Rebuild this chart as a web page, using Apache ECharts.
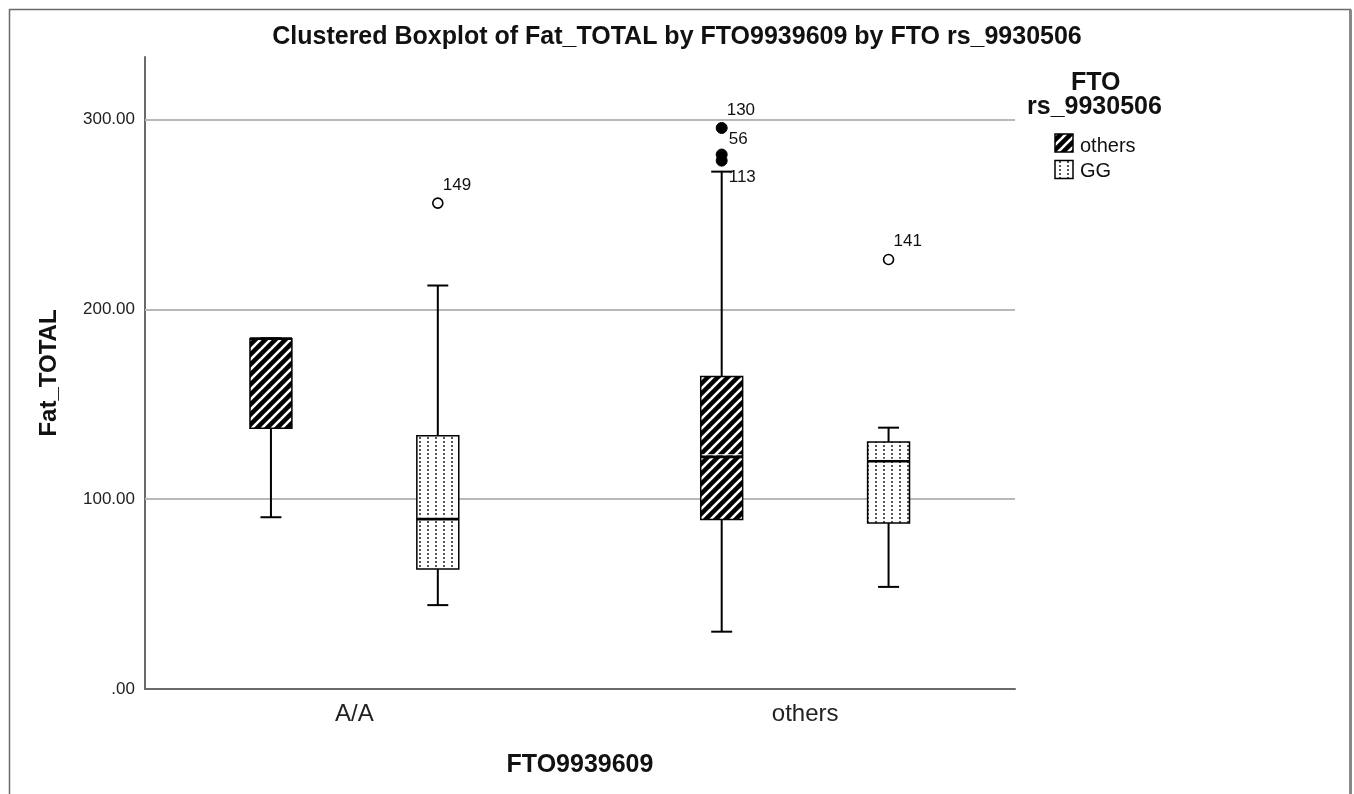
<!DOCTYPE html>
<html>
<head>
<meta charset="utf-8">
<script src="https://cdn.jsdelivr.net/npm/echarts@6/dist/echarts.min.js"></script>
<style>
html,body{margin:0;padding:0;background:#fff;}
#main{width:1354px;height:794px;}
</style>
</head>
<body>
<div id="main"></div>
<script>
// ---- data ----
const categories = ['A/A', 'others'];
const seriesNames = ['others', 'GG'];
const yTicks = [0, 100, 200, 300];
// [min, q1, median, q3, max] per category
const othersBox = [
  [90.5, 137.4, 184.6, 184.6, 185.2],
  [30.2, 89.3, 122.3, 164.7, 272.6]
];
const ggBox = [
  [44.2, 63.2, 89.5, 133.5, 212.6],
  [53.8, 87.5, 120.0, 130.2, 137.7]
];
// [categoryIndex, value, case id]
const othersOutliers = [
  [1, 295.6, '130'],
  [1, 281.6, '56'],
  [1, 278.4, '113']
];
const ggOutliers = [
  [0, 256.0, '149'],
  [1, 226.3, '141']
];

// ---- styles ----
const FONT = '"Liberation Sans", Arial, sans-serif';
const groupOffset = { others: -0.1851, GG: 0.1851 };
const boxWidthUnits = 0.093;
const labelOffsets = { '56': [7, -15], '113': [7, 17] };

function hatchPattern() {
  const c = document.createElement('canvas');
  c.width = 10; c.height = 10;
  const g = c.getContext('2d');
  g.fillStyle = '#000';
  g.fillRect(0, 0, 10, 10);
  g.strokeStyle = '#fff';
  g.lineWidth = 2.6;
  [0, 10, 20].forEach(function (k) {
    g.beginPath();
    g.moveTo(k + 5, -5);
    g.lineTo(k - 15, 15);
    g.stroke();
  });
  return c;
}
function dotPattern() {
  const c = document.createElement('canvas');
  c.width = 8; c.height = 4;
  const g = c.getContext('2d');
  g.fillStyle = '#fff';
  g.fillRect(0, 0, 8, 4);
  g.fillStyle = '#555';
  g.fillRect(3, 1, 2, 2);
  return c;
}
const patterns = { others: hatchPattern(), GG: dotPattern() };

function boxSeries(name, boxes) {
  const data = boxes.map(function (b, i) { return [i].concat(b); });
  return {
    type: 'custom',
    name: name,
    z: 3,
    data: data,
    encode: { x: 0, y: [1, 2, 3, 4, 5] },
    renderItem: function (params, api) {
      const cx = api.value(0) + groupOffset[name];
      const vals = [1, 2, 3, 4, 5].map(function (d) { return api.value(d); });
      const pMin = api.coord([cx, vals[0]]);
      const pQ1 = api.coord([cx, vals[1]]);
      const pMed = api.coord([cx, vals[2]]);
      const pQ3 = api.coord([cx, vals[3]]);
      const pMax = api.coord([cx, vals[4]]);
      const w = api.size([boxWidthUnits, 0])[0];
      const x = pQ1[0];
      const cap = w / 2;
      const lineStyle = { stroke: '#000', lineWidth: 2 };
      return {
        type: 'group',
        children: [
          { type: 'line', shape: { x1: x, y1: pQ3[1], x2: x, y2: pMax[1] }, style: lineStyle },
          { type: 'line', shape: { x1: x - cap / 2, y1: pMax[1], x2: x + cap / 2, y2: pMax[1] }, style: lineStyle },
          { type: 'line', shape: { x1: x, y1: pQ1[1], x2: x, y2: pMin[1] }, style: lineStyle },
          { type: 'line', shape: { x1: x - cap / 2, y1: pMin[1], x2: x + cap / 2, y2: pMin[1] }, style: lineStyle },
          { type: 'rect', shape: { x: x - w / 2, y: pQ3[1], width: w, height: pQ1[1] - pQ3[1] },
            style: { fill: { image: patterns[name], repeat: 'repeat' }, stroke: '#000', lineWidth: 1.5 } },
          { type: 'line', shape: { x1: x - w / 2 + 1, y1: pMed[1] - 2, x2: x + w / 2 - 1, y2: pMed[1] - 2 },
            style: { stroke: '#fff', lineWidth: 1.2 } },
          { type: 'line', shape: { x1: x - w / 2, y1: pMed[1], x2: x + w / 2, y2: pMed[1] },
            style: { stroke: '#000', lineWidth: 2.6 } }
        ]
      };
    }
  };
}

function outlierSeries(name, pts, filled) {
  return {
    type: 'custom',
    name: name + ' outliers',
    z: 4,
    data: pts.map(function (p) { return [p[0], p[1], p[2]]; }),
    encode: { x: 0, y: 1 },
    renderItem: function (params, api) {
      const cx = api.value(0) + groupOffset[name];
      const p = api.coord([cx, api.value(1)]);
      const id = pts[params.dataIndex][2];
      const off = labelOffsets[id] || [5, -18];
      return {
        type: 'group',
        children: [
          { type: 'circle', shape: { cx: p[0], cy: p[1], r: filled ? 5.5 : 5 },
            style: filled ? { fill: '#000', stroke: '#000', lineWidth: 1 } : { fill: '#fff', stroke: '#000', lineWidth: 1.6 } },
          { type: 'text', x: p[0] + off[0], y: p[1] + off[1],
            style: { text: id, fill: '#111', font: '17px ' + FONT, align: 'left', verticalAlign: 'middle' } }
        ]
      };
    }
  };
}

const chart = echarts.init(document.getElementById('main'), null, { renderer: 'canvas' });
const option = {
  backgroundColor: '#fff',
  animation: false,
  title: {
    text: 'Clustered Boxplot of Fat_TOTAL by FTO9939609 by FTO rs_9930506',
    left: 'center',
    top: 20,
    textStyle: { fontFamily: FONT, fontSize: 25, fontWeight: 'bold', color: '#111' }
  },
  grid: { left: 145, right: 339, top: 57, bottom: 105, containLabel: false },
  xAxis: {
    type: 'value',
    min: -0.4645,
    max: 1.4656,
    name: 'FTO9939609',
    nameLocation: 'middle',
    nameGap: 64,
    nameTextStyle: { fontFamily: FONT, fontSize: 25, fontWeight: 'bold', color: '#111' },
    axisLine: { show: true, onZero: false, lineStyle: { color: '#6a6a6a', width: 2 } },
    axisTick: { show: false },
    splitLine: { show: false },
    axisLabel: {
      customValues: [0, 1],
      formatter: function (v) { return categories[Math.round(v)]; },
      fontFamily: FONT, fontSize: 24, color: '#222', margin: 13
    }
  },
  yAxis: {
    type: 'value',
    min: 0,
    max: 333,
    name: 'Fat_TOTAL',
    nameLocation: 'middle',
    nameRotate: 90,
    nameGap: 84,
    nameTextStyle: { fontFamily: FONT, fontSize: 24, fontWeight: 'bold', color: '#111' },
    axisLine: { show: true, onZero: false, lineStyle: { color: '#6a6a6a', width: 2 } },
    axisTick: { show: false },
    splitLine: { show: false },
    axisLabel: {
      customValues: yTicks,
      formatter: function (v) { return v === 0 ? '.00' : v.toFixed(2); },
      fontFamily: FONT, fontSize: 17, color: '#222', margin: 10
    }
  },
  graphic: [
    { type: 'rect', shape: { x: 9.5, y: 9.5, width: 1341, height: 900 }, style: { fill: 'none', stroke: '#6a6a6a', lineWidth: 1.5 }, silent: true },
    { type: 'line', shape: { x1: 1350.5, y1: 10, x2: 1350.5, y2: 794 }, style: { stroke: '#888', lineWidth: 3 }, silent: true },
    { type: 'text', left: 1071, top: 71, style: { text: 'FTO', font: 'bold 25px ' + FONT, fill: '#111' } },
    { type: 'text', left: 1027, top: 95, style: { text: 'rs_9930506', font: 'bold 25px ' + FONT, fill: '#111' } },
    { type: 'rect', shape: { x: 1055, y: 134, width: 18, height: 18 },
      style: { fill: { image: patterns.others, repeat: 'repeat' }, stroke: '#000', lineWidth: 1.5 } },
    { type: 'text', x: 1080, y: 146, style: { text: seriesNames[0], font: '20px ' + FONT, fill: '#111', verticalAlign: 'middle' } },
    { type: 'rect', shape: { x: 1055, y: 160.5, width: 18, height: 18 },
      style: { fill: { image: patterns.GG, repeat: 'repeat' }, stroke: '#000', lineWidth: 1.5 } },
    { type: 'text', x: 1080, y: 171, style: { text: seriesNames[1], font: '20px ' + FONT, fill: '#111', verticalAlign: 'middle' } }
  ],
  series: [
    {
      type: 'line',
      name: 'grid',
      z: 1,
      data: [],
      silent: true,
      markLine: {
        z: 1,
        silent: true,
        symbol: ['none', 'none'],
        label: { show: false },
        lineStyle: { color: '#b8b8b8', width: 2, type: 'solid' },
        data: yTicks.filter(function (v) { return v > 0; }).map(function (v) { return { yAxis: v }; })
      }
    },
    boxSeries(seriesNames[0], othersBox),
    boxSeries(seriesNames[1], ggBox),
    outlierSeries(seriesNames[0], othersOutliers, true),
    outlierSeries(seriesNames[1], ggOutliers, false)
  ]
};
chart.setOption(option);
</script>
</body>
</html>
